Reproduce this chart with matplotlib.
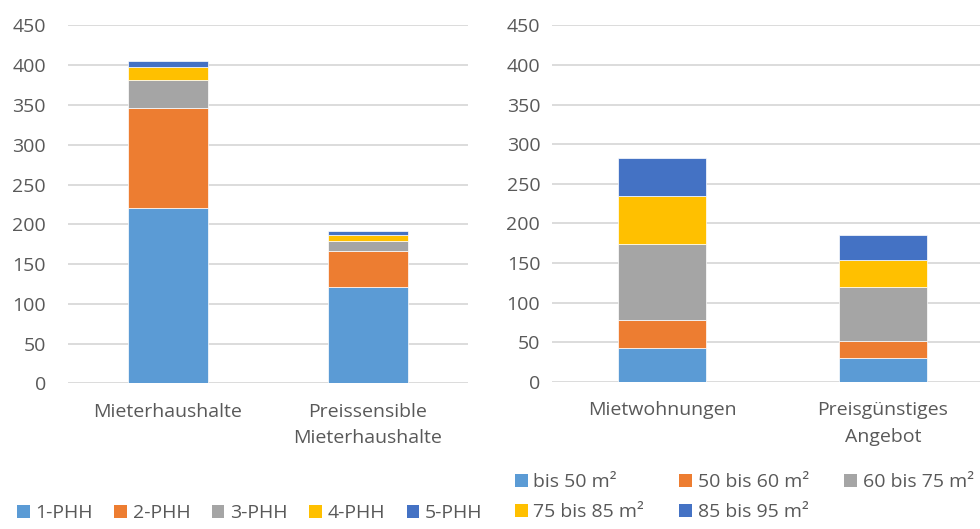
import matplotlib
matplotlib.use("Agg")
import matplotlib.pyplot as plt
import numpy as np
from matplotlib.patches import Patch

plt.rcParams["font.family"] = ["Open Sans", "DejaVu Sans"]

# left chart: households by size
left_cats = ["Mieterhaushalte", "Preissensible\nMieterhaushalte"]
left_series = ["1-PHH", "2-PHH", "3-PHH", "4-PHH", "5-PHH"]
phh1 = [221, 121]
phh2 = [125, 45]
phh3 = [35, 13]
phh4 = [17, 8]
phh5 = [7, 4]

# right chart: flats by size
right_cats = ["Mietwohnungen", "Preisgünstiges\nAngebot"]
right_series = ["bis 50 m²", "50 bis 60 m²", "60 bis 75 m²", "75 bis 85 m²", "85 bis 95 m²"]
sz1 = [42, 30]
sz2 = [36, 22]
sz3 = [96, 67]
sz4 = [60, 35]
sz5 = [48, 31]

colors = ["#5B9BD5", "#ED7D31", "#A5A5A5", "#FFC000", "#4472C4"]
txt = "#595959"
grid = "#D9D9D9"
fs = 14


def stacked(ax, cats, series, ypad):
    x = np.arange(len(cats))
    bottom = np.zeros(len(cats))
    for vals, c in zip(series, colors):
        ax.bar(x, vals, width=0.4, bottom=bottom, color=c, edgecolor="white",
               linewidth=0.5, zorder=3)
        bottom += np.array(vals)
    ax.set_ylim(0, 450)
    ax.set_yticks(np.arange(0, 451, 50))
    ax.set_xticks(x)
    ax.set_xticklabels(cats, linespacing=1.6)
    ax.yaxis.grid(True, color=grid, linewidth=1.3, zorder=0)
    ax.set_axisbelow(True)
    for s in ax.spines.values():
        s.set_visible(False)
    ax.tick_params(axis="both", length=0, colors=txt, labelsize=fs)
    ax.tick_params(axis="y", pad=ypad)
    ax.tick_params(axis="x", pad=14)


fig = plt.figure(figsize=(9.8, 5.29), dpi=100)

ax1 = fig.add_axes([68 / 980, 145.7 / 529, 400 / 980, 357.8 / 529])
stacked(ax1, left_cats, [phh1, phh2, phh3, phh4, phh5], 16)
ax1.set_xlim(-0.5, 1.5)

ax2 = fig.add_axes([552 / 980, 147.3 / 529, 428 / 980, 356.4 / 529])
stacked(ax2, right_cats, [sz1, sz2, sz3, sz4, sz5], 8.5)
ax2.set_xlim(-0.5, 1.44)

h1 = [Patch(facecolor=c) for c in colors]
fig.legend(h1, left_series, loc="center left", bbox_to_anchor=(17 / 980, 16 / 529),
           ncol=5, frameon=False, fontsize=fs, labelcolor=txt, borderpad=0,
           borderaxespad=0, handlelength=0.65, handleheight=0.65, handletextpad=0.3,
           columnspacing=1.1)

order = [0, 3, 1, 4, 2]
fig.legend([h1[i] for i in order], [right_series[i] for i in order], loc="center left",
           bbox_to_anchor=(515 / 980, 32 / 529), ncol=3, frameon=False, fontsize=fs,
           labelcolor=txt, borderpad=0, borderaxespad=0, handlelength=0.65,
           handleheight=0.65, handletextpad=0.3, columnspacing=1.8, labelspacing=0.62)

fig.savefig("out.png", dpi=100)
